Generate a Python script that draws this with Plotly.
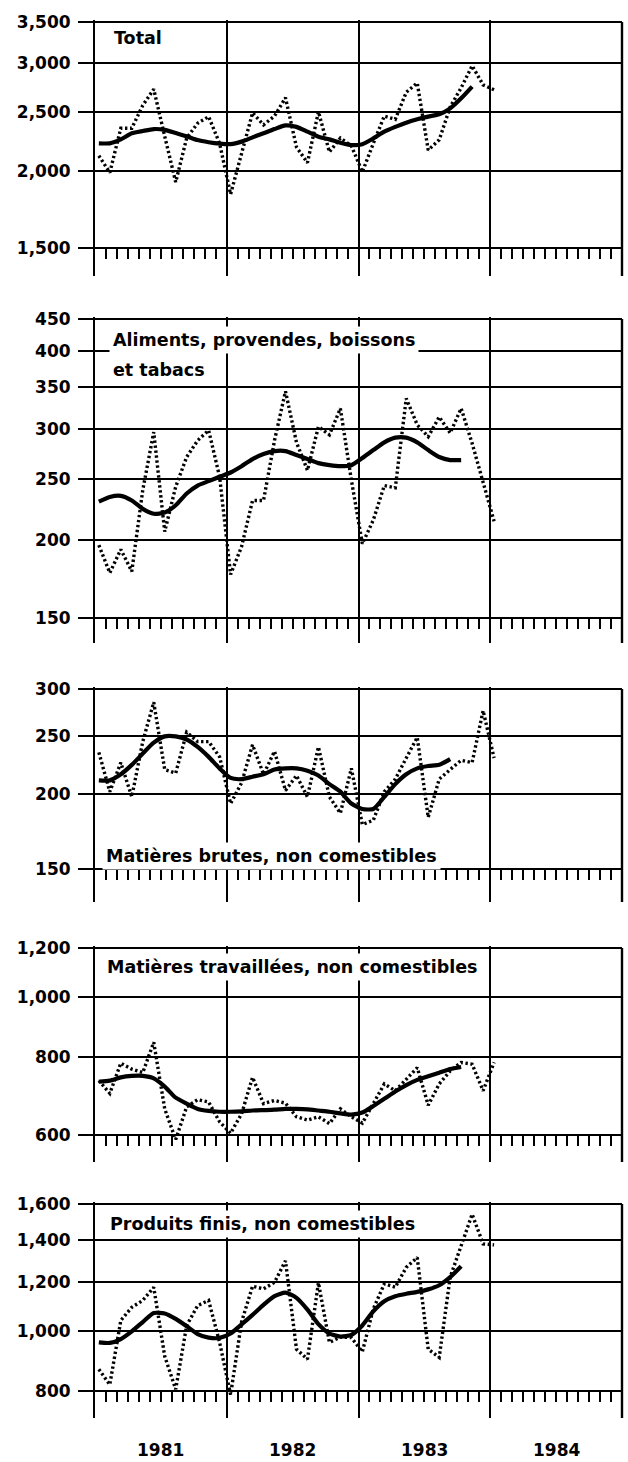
import math
import plotly.graph_objects as go

# ---------------- data (monthly, Jan 1981 = index 0) ----------------
month_index = list(range(37))

total = [2120, 1990, 2350, 2350, 2560, 2720, 2280, 1920, 2265, 2395,
         2455, 2220, 1835, 2150, 2490, 2380, 2460, 2635, 2190, 2065,
         2500, 2150, 2265, 2200, 1995, 2220, 2460, 2430, 2690, 2785,
         2165, 2250, 2545, 2735, 2970, 2765, 2715]
total_trend = [2221, 2221, 2254, 2306, 2326, 2343, 2336, 2308, 2280, 2248,
               2230, 2218, 2214, 2235, 2271, 2306, 2343, 2375, 2362, 2320,
               2277, 2254, 2226, 2207, 2214, 2262, 2320, 2362, 2400, 2430,
               2455, 2476, 2532, 2629, 2747]

aliments = [196, 177, 193, 178, 240, 297, 206, 243, 271, 288,
            299, 252, 176, 195, 231, 231, 288, 345, 286, 258,
            303, 294, 324, 249, 197, 215, 244, 242, 336, 305,
            292, 314, 296, 324, 285, 246, 214]
aliments_trend = [230, 234, 235, 231, 224, 220, 221, 227, 237, 244,
                  248, 252, 256, 262, 269, 274, 277, 277, 273, 269,
                  265, 263, 262, 263, 270, 278, 286, 291, 291, 286,
                  278, 271, 268, 268]

brutes = [235, 202, 226, 198, 245, 285, 220, 217, 254, 245,
          245, 231, 193, 209, 242, 216, 236, 203, 215, 198,
          240, 198, 186, 221, 178, 181, 202, 212, 230, 249,
          183, 212, 220, 228, 226, 276, 230]
brutes_trend = [211, 211, 216, 224, 234, 244, 250, 250, 247, 240,
                231, 221, 213, 212, 214, 216, 220, 221, 221, 219,
                215, 208, 202, 193, 189, 189, 198, 208, 216, 221,
                223, 224, 229]

travaillees = [734, 700, 783, 766, 756, 846, 661, 590, 666, 684,
               678, 630, 604, 649, 743, 674, 682, 675, 642, 634,
               642, 626, 661, 642, 627, 674, 725, 707, 738, 770,
               670, 725, 761, 785, 780, 707, 785]
travaillees_trend = [731, 734, 743, 747, 747, 740, 718, 689, 674, 661,
                     656, 654, 654, 655, 657, 658, 659, 661, 661, 660,
                     657, 654, 650, 647, 652, 668, 686, 705, 722, 736,
                     746, 756, 766, 772]

produits = [867, 819, 1039, 1091, 1119, 1175, 910, 805, 1020, 1098,
            1119, 958, 789, 1033, 1180, 1168, 1197, 1296, 934, 900,
            1195, 958, 977, 975, 925, 1085, 1190, 1175, 1265, 1312,
            934, 906, 1220, 1370, 1540, 1380, 1375]
produits_trend = [958, 956, 970, 998, 1033, 1068, 1066, 1045, 1017, 988,
                  975, 974, 990, 1024, 1061, 1101, 1137, 1152, 1130, 1082,
                  1025, 990, 979, 985, 1020, 1075, 1116, 1137, 1147, 1155,
                  1166, 1184, 1220, 1270]

titles = [["Total"],
          ["Aliments, provendes, boissons", "et tabacs"],
          ["Matières brutes, non comestibles"],
          ["Matières travaillées, non comestibles"],
          ["Produits finis, non comestibles"]]

ticks_total = [1500, 2000, 2500, 3000, 3500]
ticks_aliments = [150, 200, 250, 300, 350, 400, 450]
ticks_brutes = [150, 200, 250, 300]
ticks_travaillees = [600, 800, 1000, 1200]
ticks_produits = [800, 1000, 1200, 1400, 1600]

years = ["1981", "1982", "1983", "1984"]

series = [(total, total_trend, ticks_total),
          (aliments, aliments_trend, ticks_aliments),
          (brutes, brutes_trend, ticks_brutes),
          (travaillees, travaillees_trend, ticks_travaillees),
          (produits, produits_trend, ticks_produits)]

# ---------------- layout constants (pixels) ----------------
W, H = 628, 1462
X0, X1 = 95, 622          # left axis line, right border (month 48)
YPAD = 2
panel_px = [  # top gridline, bottom gridline, extension below
    (22, 248, 28),
    (319, 618, 25),
    (689, 869, 33),
    (948, 1135, 27),
    (1204, 1391, 27),
]
title_pos = [  # (left px, centre y px) per line
    [(110, 38)],
    [(109, 340), (109, 370)],
    [(102, 856)],
    [(103, 967)],
    [(106, 1224)],
]
OFFSET = 0.35
FONT = "DejaVu Sans"

fig = go.Figure()
layout = dict(
    width=W, height=H, margin=dict(l=0, r=0, t=0, b=0),
    paper_bgcolor="white", plot_bgcolor="white", showlegend=False,
    annotations=[], shapes=[],
)

for k, ((dots, trend, ticks), (top, bot, ext)) in enumerate(zip(series, panel_px), start=1):
    xs = "" if k == 1 else str(k)
    fig.add_trace(go.Scatter(
        x=[m + OFFSET for m in month_index[:len(dots)]], y=dots,
        mode="lines", line=dict(color="black", width=3.4, dash="2.4px,2.6px"),
        xaxis="x" + xs, yaxis="y" + xs, hoverinfo="skip"))
    fig.add_trace(go.Scatter(
        x=[m + OFFSET for m in month_index[:len(trend)]], y=trend,
        mode="lines", line=dict(color="black", width=4.2, shape="spline", smoothing=0.6),
        xaxis="x" + xs, yaxis="y" + xs, hoverinfo="skip"))

    lt, lb = math.log10(ticks[-1]), math.log10(ticks[0])
    ppd = (bot - top) / (lt - lb)
    yr = [lb - ext / ppd, lt + YPAD / ppd]
    ydom = [1 - (bot + ext) / H, 1 - (top - YPAD) / H]

    layout["xaxis" + xs] = dict(
        domain=[X0 / W, X1 / W], range=[0, 48],
        anchor="free", position=1 - bot / H,
        tickvals=[12, 24, 36], ticks="outside", ticklen=10, tickwidth=2,
        tickcolor="black", showticklabels=False,
        showgrid=True, gridcolor="black", gridwidth=2.2,
        showline=False, zeroline=False, fixedrange=True,
        minor=dict(tickvals=list(range(1, 48)), ticks="outside", ticklen=10,
                   tickwidth=2, tickcolor="black", showgrid=False),
    )
    layout["yaxis" + xs] = dict(
        type="log", domain=ydom, range=yr, anchor="x" + xs,
        tickvals=ticks, ticktext=[f"{t:,}" for t in ticks],
        ticks="outside", ticklen=15, tickwidth=2, tickcolor="black",
        ticklabelstandoff=4,
        tickfont=dict(family=FONT, size=17, color="black", weight="bold"),
        showgrid=True, gridcolor="black", gridwidth=2,
        showline=True, linecolor="black", linewidth=2, mirror=False,
        zeroline=False, fixedrange=True, automargin=False,
    )
    # right-hand border of the panel (end of 1984), in paper coordinates
    layout["shapes"].append(dict(
        type="line", xref="paper", yref="paper",
        x0=X1 / W, x1=X1 / W, y0=1 - (bot + ext) / H, y1=1 - top / H,
        line=dict(color="black", width=2.4), layer="above"))

    for line_text, (px, py) in zip(titles[k - 1], title_pos[k - 1]):
        layout["annotations"].append(dict(
            text=line_text, xref="paper", yref="paper",
            x=px / W, y=1 - py / H, xanchor="left", yanchor="middle",
            showarrow=False, bgcolor="white", borderpad=3,
            font=dict(family=FONT, size=17.5, color="black", weight="bold"),
        ))

for j, yl in enumerate(years):
    layout["annotations"].append(dict(
        text=yl, xref="x5", yref="paper", x=6 + 12 * j, y=1 - 1450 / H,
        xanchor="center", yanchor="middle", showarrow=False,
        font=dict(family=FONT, size=17, color="black", weight="bold"),
    ))

fig.update_layout(**layout)
fig.write_html(
    "out.html", config={"displayModeBar": False},
    post_script=("document.body.style.margin='0';document.body.style.padding='0';"
                 "document.documentElement.style.overflow='hidden';"
                 "document.body.style.overflow='hidden';"))
